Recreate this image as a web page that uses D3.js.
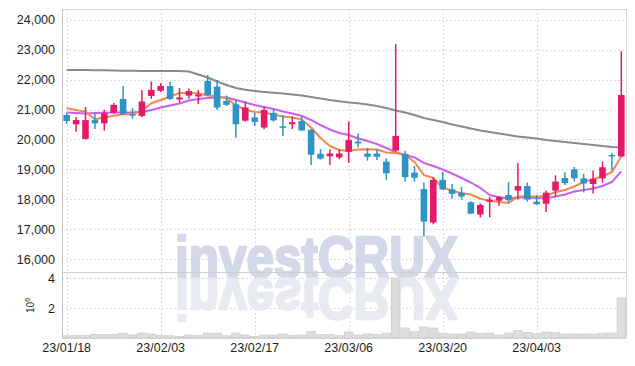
<!DOCTYPE html>
<html>
<head>
<meta charset="utf-8">
<script src="https://cdn.jsdelivr.net/npm/d3@7"></script>
<style>
  body { margin: 0; background: #fff; }
  text { font-family: "Liberation Sans", Arial, sans-serif; }
</style>
</head>
<body>
<svg id="chart"></svg>
<script>
// trading days (yy/mm/dd)
const dates = [
  "23/01/18","23/01/19","23/01/20","23/01/25","23/01/26","23/01/27","23/01/30","23/01/31",
  "23/02/01","23/02/02","23/02/03","23/02/06","23/02/07","23/02/08","23/02/09","23/02/10",
  "23/02/13","23/02/14","23/02/15","23/02/16","23/02/17","23/02/20","23/02/21","23/02/22",
  "23/02/23","23/02/24","23/02/27","23/02/28","23/03/02","23/03/03","23/03/06","23/03/07",
  "23/03/08","23/03/09","23/03/10","23/03/13","23/03/14","23/03/15","23/03/16","23/03/17",
  "23/03/20","23/03/21","23/03/22","23/03/23","23/03/24","23/03/27","23/03/28","23/03/29",
  "23/03/30","23/03/31","23/04/03","23/04/04","23/04/05","23/04/06","23/04/07","23/04/10",
  "23/04/11","23/04/12","23/04/13","23/04/14"
];

const open = [
  20820, 20510, 20020, 20650, 20540, 20890, 21360, 20850, 20790, 21460,
  21630, 21790, 21340, 21470, 21440, 21960, 21770, 21290, 21180, 20630,
  20740, 20400, 20890, 20440, 20510, 20620, 20320, 19520, 19440, 19400,
  19590, 19930, 19530, 19530, 19260, 19630, 19520, 18890, 18340, 17220,
  18650, 18330, 18220, 17900, 17490, 17920, 17950, 18140, 18290, 18440,
  17920, 17850, 18290, 18710, 19000, 18700, 18510, 18700, 19480, 19430
];
const high = [
  20890, 20750, 21090, 20890, 20990, 21220, 21790, 21050, 21660, 21940,
  21890, 21930, 21720, 21710, 21660, 22160, 21990, 21470, 21350, 21270,
  20890, 21100, 21050, 20820, 20770, 20800, 20350, 19680, 19670, 19670,
  20600, 20210, 19720, 19680, 19370, 23200, 19620, 19110, 18560, 18740,
  18920, 18510, 18410, 17930, 17860, 18080, 18110, 18570, 19210, 18560,
  18140, 18290, 18800, 18900, 19080, 18850, 18960, 19260, 19550, 22960
];
const low = [
  20520, 20260, 20000, 20350, 20300, 20850, 20820, 20690, 20750, 21360,
  21590, 21320, 21240, 21360, 21190, 21460, 20990, 21120, 20060, 20600,
  20450, 20340, 20600, 20120, 20350, 20290, 19150, 19330, 19150, 19340,
  19220, 19740, 19290, 19310, 18650, 19590, 18590, 18590, 16750, 17160,
  18310, 18020, 17990, 17500, 17390, 17400, 17780, 17910, 17990, 17920,
  17810, 17570, 18080, 18480, 18600, 18230, 18190, 18550, 18960, 19420
];
const close = [
  20620, 20650, 20650, 20540, 20880, 21160, 20850, 20800, 21270, 21660,
  21790, 21360, 21410, 21620, 21510, 21490, 21070, 21160, 20510, 21070,
  20590, 20990, 20640, 20420, 20580, 20300, 19490, 19360, 19530, 19530,
  19980, 19870, 19420, 19420, 18870, 20120, 18740, 18720, 17250, 18650,
  18330, 18180, 18090, 17520, 17810, 17990, 18070, 17970, 18440, 17990,
  17830, 18220, 18590, 18540, 18700, 18530, 18680, 19070, 19460, 21490
];

// volume, millions of shares
const volume = [
  0.15, 0.17, 0.17, 0.24, 0.24, 0.24, 0.33, 0.20, 0.33, 0.27,
  0.17, 0.15, 0.10, 0.20, 0.15, 0.33, 0.33, 0.15, 0.33, 0.20,
  0.10, 0.20, 0.20, 0.27, 0.17, 0.20, 0.45, 0.22, 0.22, 0.15,
  0.40, 0.20, 0.27, 0.22, 0.33, 4.00, 0.67, 0.42, 0.73, 0.67,
  0.33, 0.27, 0.27, 0.40, 0.30, 0.33, 0.20, 0.33, 0.49, 0.38,
  0.30, 0.40, 0.36, 0.27, 0.27, 0.27, 0.27, 0.33, 0.33, 2.67
];

// moving averages as drawn
const maShort = [
  21045, 20988, 20931, 20680, 20737, 20797, 20844, 20854, 20964, 21212,
  21322, 21433, 21557, 21567, 21547, 21473, 21440, 21389, 21138, 21004,
  20921, 20904, 20837, 20770, 20737, 20670, 20402, 20051, 19783, 19649,
  19615, 19666, 19672, 19666, 19565, 19549, 19482, 19247, 18812, 18712,
  18394, 18283, 18200, 18160, 18016, 17949, 17909, 17875, 18086, 18109,
  18086, 18109, 18243, 18310, 18427, 18578, 18679, 18762, 18913, 19431
];
const maMid = [
  20904, 20887, 20871, 20887, 20894, 20904, 20904, 20904, 20921, 20988,
  21071, 21138, 21205, 21306, 21356, 21389, 21406, 21406, 21322, 21239,
  21155, 21088, 21021, 20937, 20871, 20787, 20653, 20485, 20335, 20218,
  20151, 20034, 19950, 19850, 19716, 19572, 19482, 19398, 19214, 19113,
  18996, 18862, 18712, 18561, 18377, 18143, 18066, 18032, 18059, 18059,
  18042, 18032, 18093, 18160, 18260, 18310, 18360, 18444, 18578, 18936
];
const maLong = [
  22326, 22326, 22326, 22320, 22315, 22310, 22305, 22300, 22295, 22293,
  22293, 22293, 22293, 22276, 22176, 22075, 21941, 21824, 21724, 21664,
  21624, 21590, 21563, 21540, 21506, 21473, 21423, 21373, 21322, 21279,
  21239, 21212, 21172, 21122, 21055, 20971, 20904, 20820, 20720, 20653,
  20586, 20502, 20435, 20368, 20302, 20251, 20201, 20151, 20101, 20067,
  20034, 19984, 19950, 19917, 19883, 19850, 19816, 19783, 19749, 19739
];

const priceTicks = [16000, 17000, 18000, 19000, 20000, 21000, 22000, 23000, 24000];
const volumeTicks = [2, 4];
const dateTicks = ["23/01/18", "23/02/03", "23/02/17", "23/03/06", "23/03/20", "23/04/03"];

const width = 635;
const height = 366;
const left = 62, right = 626;
const priceTop = 9, priceBottom = 272;
const volTop = 272, volBottom = 338;

const UP = "#e5196b", DOWN = "#2e93c6";

const svg = d3.select("#chart")
  .attr("width", width)
  .attr("height", height);

const data = dates.map((d, i) => ({
  date: d, open: open[i], high: high[i], low: low[i], close: close[i], vol: volume[i]
}));

// scales
const x = d3.scaleBand()
  .domain(dates)
  .range([left, right])
  .paddingInner(0.3)
  .paddingOuter(0.15);

const xv = d3.scaleBand()
  .domain(dates)
  .range([left, right])
  .paddingInner(0.1)
  .paddingOuter(0.05);

const cx = d => x(d) + x.bandwidth() / 2;

const y = d3.scaleLinear()
  .domain([15565, 24368])
  .range([priceBottom, priceTop]);

const yv = d3.scaleLinear()
  .domain([0, 4.4])
  .range([volBottom, volTop]);

// grid
const grid = svg.append("g")
  .attr("stroke", "#c9cedd")
  .attr("stroke-dasharray", "1.5,2.5");

grid.selectAll(".hp")
  .data(priceTicks)
  .enter().append("line")
  .attr("x1", left).attr("x2", right)
  .attr("y1", d => Math.round(y(d)) + 0.5)
  .attr("y2", d => Math.round(y(d)) + 0.5);

grid.selectAll(".hv")
  .data(volumeTicks)
  .enter().append("line")
  .attr("x1", left).attr("x2", right)
  .attr("y1", d => Math.round(yv(d)) + 0.5)
  .attr("y2", d => Math.round(yv(d)) + 0.5);

grid.selectAll(".vx")
  .data(dateTicks)
  .enter().append("line")
  .attr("x1", d => Math.round(cx(d)) + 0.5)
  .attr("x2", d => Math.round(cx(d)) + 0.5)
  .attr("y1", priceTop)
  .attr("y2", volBottom);

// watermark with reflection
const mark = svg.append("g")
  .attr("font-size", 58)
  .attr("font-weight", "bold")
  .attr("stroke-width", 2.5)
  .attr("stroke-linejoin", "round");
mark.append("text")
  .attr("x", 175).attr("y", 277)
  .attr("textLength", 283)
  .attr("lengthAdjust", "spacingAndGlyphs")
  .attr("fill", "#d3d9e8")
  .attr("stroke", "#d3d9e8")
  .text("investCRUX");
mark.append("text")
  .attr("x", 175).attr("y", 277)
  .attr("textLength", 283)
  .attr("lengthAdjust", "spacingAndGlyphs")
  .attr("fill", "#e8eaf1")
  .attr("stroke", "#e8eaf1")
  .attr("transform", "translate(0,556) scale(1,-1)")
  .text("investCRUX");

// frame
const frame = svg.append("g").attr("fill", "none");
frame.append("line").attr("x1", left).attr("x2", right).attr("y1", priceTop + 0.5).attr("y2", priceTop + 0.5).attr("stroke", "#d6d6d6");
frame.append("line").attr("x1", right + 0.5).attr("x2", right + 0.5).attr("y1", priceTop).attr("y2", volBottom).attr("stroke", "#d6d6d6");
frame.append("line").attr("x1", left).attr("x2", right).attr("y1", volTop + 0.5).attr("y2", volTop + 0.5).attr("stroke", "#cfcfcf");
frame.append("line").attr("x1", left).attr("x2", right).attr("y1", volBottom + 0.5).attr("y2", volBottom + 0.5).attr("stroke", "#d6d6d6");

// volume bars
svg.append("g")
  .selectAll("rect")
  .data(data)
  .enter().append("rect")
  .attr("x", d => xv(d.date))
  .attr("width", xv.bandwidth())
  .attr("y", d => yv(d.vol))
  .attr("height", d => volBottom - yv(d.vol))
  .attr("fill", "#d9d9d9")
  .attr("fill-opacity", 0.9)
  .attr("stroke", "#c6c6c6")
  .attr("stroke-width", 0.6);

// moving averages
const line = d3.line()
  .x((d, i) => cx(dates[i]))
  .y(d => y(d));

[[maLong, "#8a8a8a"], [maMid, "#cd5ef0"], [maShort, "#f08a4e"]].forEach(([vals, col]) => {
  svg.append("path")
    .datum(vals)
    .attr("d", line)
    .attr("fill", "none")
    .attr("stroke", col)
    .attr("stroke-width", 2)
    .attr("stroke-linejoin", "round");
});

// candles
const candles = svg.append("g")
  .selectAll("g")
  .data(data)
  .enter().append("g")
  .attr("fill", d => d.close >= d.open ? UP : DOWN)
  .attr("stroke", d => d.close >= d.open ? UP : DOWN);

candles.append("line")
  .attr("x1", d => cx(d.date))
  .attr("x2", d => cx(d.date))
  .attr("y1", d => y(d.high))
  .attr("y2", d => y(d.low))
  .attr("stroke-width", 1.5);

candles.append("rect")
  .attr("x", d => x(d.date))
  .attr("width", x.bandwidth())
  .attr("y", d => y(Math.max(d.open, d.close)))
  .attr("height", d => Math.max(1.5, Math.abs(y(d.open) - y(d.close))))
  .attr("stroke", "none");

// axes
const yAxis = svg.append("g")
  .attr("transform", `translate(${left},0)`)
  .call(d3.axisLeft(y).tickValues(priceTicks).tickFormat(d3.format(",")).tickSize(0).tickPadding(7));

const vAxis = svg.append("g")
  .attr("transform", `translate(${left},0)`)
  .call(d3.axisLeft(yv).tickValues(volumeTicks).tickFormat(d3.format("d")).tickSize(0).tickPadding(7));

const xAxis = svg.append("g")
  .attr("transform", `translate(0,${volBottom})`)
  .call(d3.axisBottom(x).tickValues(dateTicks).tickSize(0).tickPadding(5));

[yAxis, vAxis, xAxis].forEach(g => {
  g.select(".domain").remove();
  g.selectAll("text")
    .attr("font-size", 12.5)
    .attr("font-family", "\"Liberation Sans\", Arial, sans-serif")
    .attr("fill", "#1e1e1e");
});

svg.append("line")
  .attr("x1", left + 0.5).attr("x2", left + 0.5)
  .attr("y1", priceTop).attr("y2", volBottom)
  .attr("stroke", "#c4c4c4");

// volume unit
const unit = svg.append("text")
  .attr("transform", "translate(34,313) rotate(-90)")
  .attr("font-size", 10)
  .attr("fill", "#333");
unit.append("tspan").text("10");
unit.append("tspan").attr("dy", -4).attr("font-size", 8).text("6");
</script>
</body>
</html>
